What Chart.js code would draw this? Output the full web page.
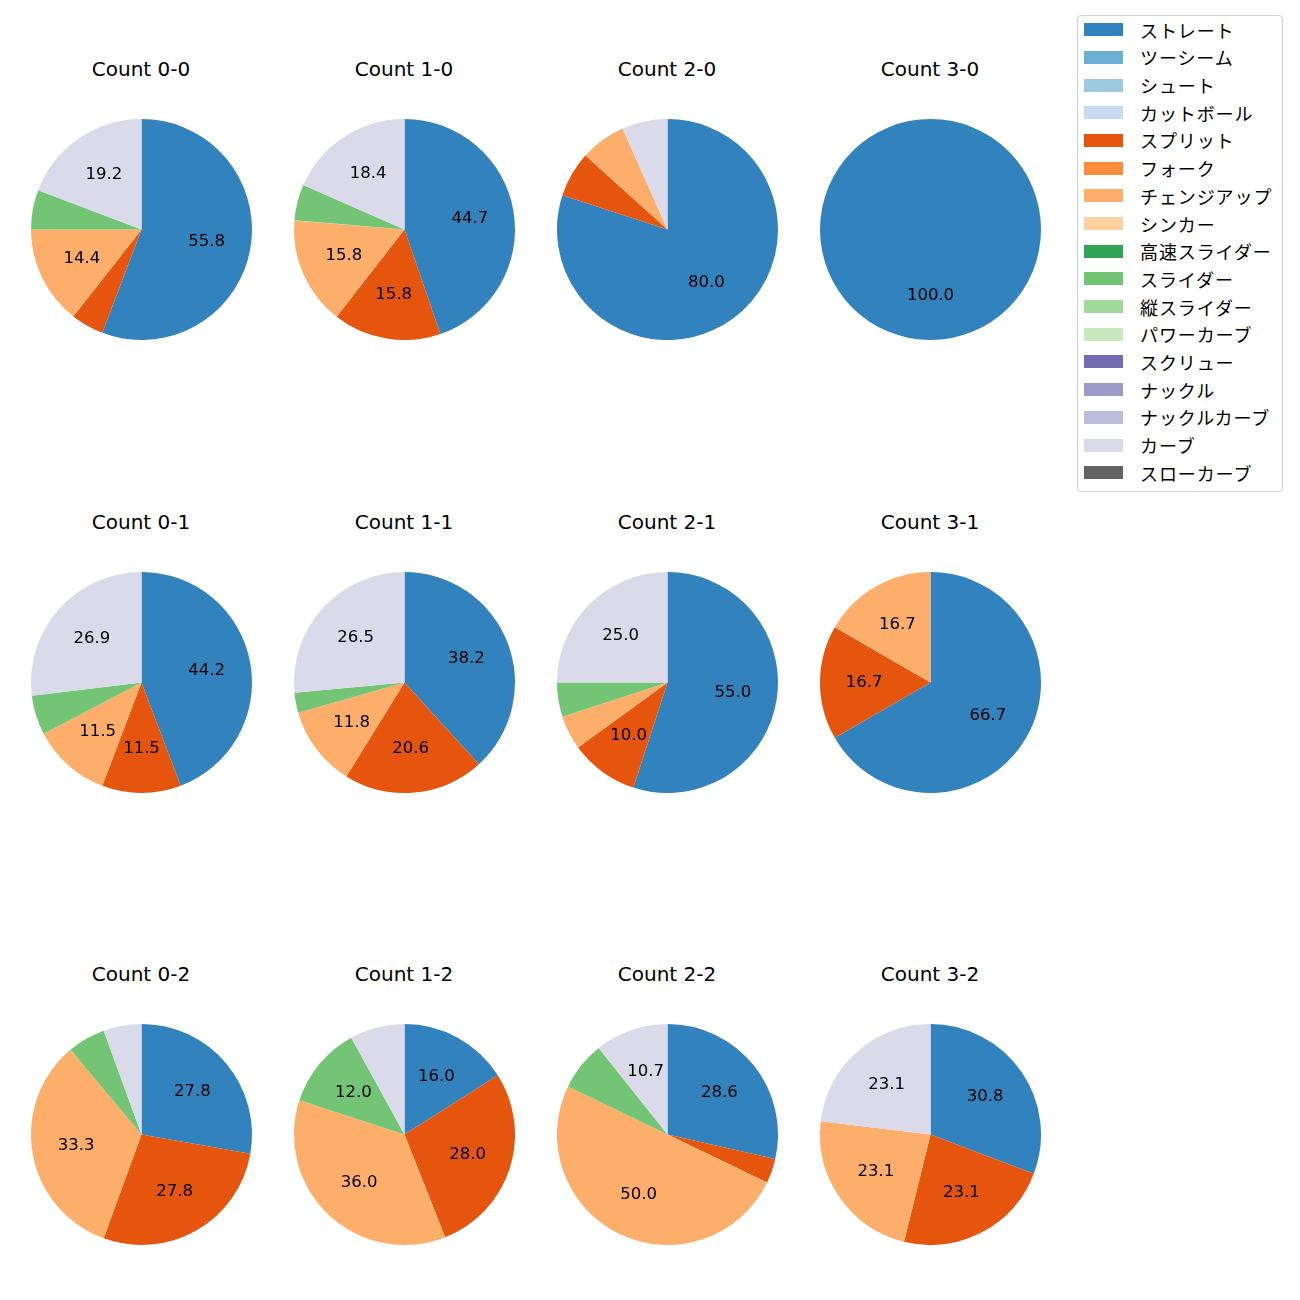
<!DOCTYPE html>
<html>
<head>
<meta charset="utf-8">
<script src="https://cdn.jsdelivr.net/npm/chart.js@4"></script>
<style>
  body { margin: 0; background: #fff; font-family: "DejaVu Sans", "Noto Sans CJK JP", sans-serif; }
  #wrap { position: relative; width: 1300px; height: 1300px; }
  .pie { position: absolute; }
  .title { position: absolute; font-size: 20px; line-height: 20px; height: 20px; color: #000; transform: translateX(-50%); white-space: nowrap; }
  #legend { position: absolute; left: 1077px; top: 15px; width: 204px; height: 475px; border: 1px solid #d0d0d0; border-radius: 4px; }
  .sw { position: absolute; left: 6px; width: 39px; height: 13px; }
  .lab { position: absolute; left: 62px; height: 20px; line-height: 20px; font-family: "Noto Sans CJK JP", sans-serif; font-size: 18px; letter-spacing: 0.9px; color: #000; white-space: nowrap; }
</style>
</head>
<body>
<div id="wrap"><div id="legend"></div></div>
<script>
const pitchTypes = ['ストレート', 'ツーシーム', 'シュート', 'カットボール', 'スプリット', 'フォーク', 'チェンジアップ', 'シンカー', '高速スライダー', 'スライダー', '縦スライダー', 'パワーカーブ', 'スクリュー', 'ナックル', 'ナックルカーブ', 'カーブ', 'スローカーブ'];
const pitchColors = ['#3182bd', '#6baed6', '#9ecae1', '#c6dbef', '#e6550d', '#fd8d3c', '#fdae6b', '#fdd0a2', '#31a354', '#74c476', '#a1d99b', '#c7e9c0', '#756bb1', '#9e9ac8', '#bcbddc', '#dadaeb', '#636363'];

const counts = ['0-0', '1-0', '2-0', '3-0', '0-1', '1-1', '2-1', '3-1', '0-2', '1-2', '2-2', '3-2'];

// pitches thrown in each count (same order as counts)
const straight = [58, 17, 12, 1, 23, 13, 11, 4, 5, 4, 8, 4];
const split    = [5, 6, 1, 0, 6, 7, 2, 1, 5, 7, 1, 3];
const changeup = [15, 6, 1, 0, 6, 4, 1, 1, 6, 9, 14, 3];
const slider   = [6, 2, 0, 0, 3, 1, 1, 0, 1, 3, 2, 0];
const curve    = [20, 7, 1, 0, 14, 9, 5, 0, 1, 2, 3, 3];

const seriesByType = {
    'ストレート': straight,
    'スプリット': split,
    'チェンジアップ': changeup,
    'スライダー': slider,
    'カーブ': curve
};

const colX = [141, 404, 667, 930];
const rowY = [229, 682, 1134];

// percentage labels at 0.6 radius, hidden under 10%
const pctLabels = {
    id: 'pctLabels',
    afterDatasetsDraw(chart) {
        const ctx = chart.ctx;
        const ds = chart.data.datasets[0].data;
        const total = ds.reduce((a, b) => a + b, 0);
        ctx.save();
        ctx.font = '16.5px "DejaVu Sans", sans-serif';
        ctx.fillStyle = '#000';
        ctx.textAlign = 'center';
        ctx.textBaseline = 'middle';
        chart.getDatasetMeta(0).data.forEach((arc, i) => {
            const pct = ds[i] / total * 100;
            if (pct < 10) return;
            const mid = (arc.startAngle + arc.endAngle) / 2;
            const r = arc.outerRadius * 0.6;
            ctx.fillText(pct.toFixed(1), arc.x + r * Math.cos(mid), arc.y + r * Math.sin(mid));
        });
        ctx.restore();
    }
};

const wrap = document.getElementById('wrap');

counts.forEach((cnt, k) => {
    const cx = colX[k % 4];
    const cy = rowY[Math.floor(k / 4)];

    const title = document.createElement('div');
    title.className = 'title';
    title.textContent = 'Count ' + cnt;
    title.style.left = cx + 'px';
    title.style.top = (cy - 170.5) + 'px';
    wrap.appendChild(title);

    const canvas = document.createElement('canvas');
    canvas.className = 'pie';
    canvas.width = 241;
    canvas.height = 241;
    canvas.style.left = (cx - 120.5) + 'px';
    canvas.style.top = (cy - 120.5) + 'px';
    wrap.appendChild(canvas);

    const values = pitchTypes.map(t => seriesByType[t] ? seriesByType[t][k] : 0);

    new Chart(canvas.getContext('2d'), {
        type: 'pie',
        data: {
            labels: pitchTypes,
            datasets: [{
                data: values,
                backgroundColor: pitchColors,
                borderWidth: 0
            }]
        },
        options: {
            responsive: false,
            animation: false,
            layout: { padding: 10 },
            plugins: {
                legend: { display: false },
                tooltip: { enabled: false }
            }
        },
        plugins: [pctLabels]
    });
});

const legend = document.getElementById('legend');
pitchTypes.forEach((name, i) => {
    const cy = 13.7 + 27.69 * i; // row centre, relative to legend box
    const sw = document.createElement('div');
    sw.className = 'sw';
    sw.style.top = (cy - 6.5) + 'px';
    sw.style.background = pitchColors[i];
    const lab = document.createElement('div');
    lab.className = 'lab';
    lab.style.top = (cy - 10) + 'px';
    lab.textContent = name;
    legend.appendChild(sw);
    legend.appendChild(lab);
});
</script>
</body>
</html>
